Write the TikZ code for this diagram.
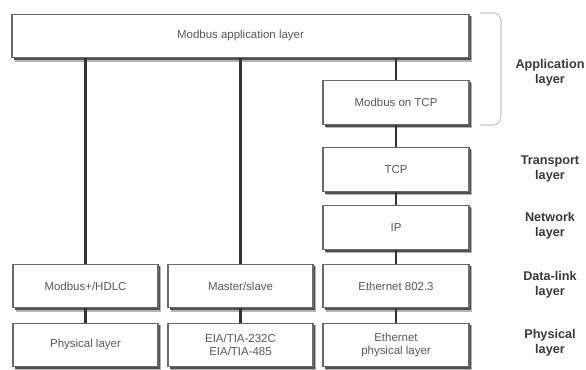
\documentclass[tikz,border=0pt]{standalone}
\usepackage{fontspec}
\setmainfont{Liberation Sans}
\usetikzlibrary{positioning}

\definecolor{boxline}{HTML}{6A6A6A}
\definecolor{boxtext}{HTML}{5A5A5A}
\definecolor{linkgray}{HTML}{333333}
\definecolor{bracegray}{HTML}{C4C4C4}
\definecolor{labelgray}{HTML}{3A3A3A}
\definecolor{shadowdark}{HTML}{505050}
\definecolor{shadowsoft}{HTML}{B4B4B4}

% a layer box with its drop shadow: name, x, y, width, text
\newcommand{\layerbox}[5]{%
  \fill[shadowsoft] (#2-#4/2+3,#3-20) rectangle (#2+#4/2+3,#3+25.5);
  \fill[shadowdark] (#2-#4/2+1.5,#3-20.5) rectangle (#2+#4/2+1.5,#3+24);
  \node[Layer, minimum width=#4*0.75pt] (#1) at (#2,#3) {#5};}

\begin{document}
\begin{tikzpicture}[x=0.75pt,y=-0.75pt]
                        \tikzset{Layer/.style={%
                                shape=rectangle,%
                                draw=boxline,%
                                line width=0.8pt,%
                                fill=white,%
                                text=boxtext,%
                                font=\fontsize{8.6}{10}\selectfont,%
                                align=center,%
                                minimum height=32.5pt,%
                                inner sep=0pt,%
                            },
                            Link/.style={-,line width=1.6pt,draw=linkgray},
                            Name/.style={text=labelgray,font=\fontsize{9.5}{11}\selectfont\bfseries,align=center}}
                            \useasboundingbox (0,0) rectangle (586,369);

                            \layerbox{app}{240.5}{36}{457}{Modbus application layer}
                            \layerbox{mtcp}{396}{102.5}{146}{Modbus on TCP}
                            \layerbox{tcp}{396}{169.5}{146}{TCP}
                            \layerbox{ip}{396}{227.5}{146}{IP}
                            \layerbox{hdlc}{85.5}{286}{145}{Modbus+/HDLC}
                            \layerbox{ms}{240.5}{286}{145}{Master/slave}
                            \layerbox{eth}{396}{286}{146}{Ethernet 802.3}
                            \layerbox{phy}{85.5}{345}{145}{Physical layer}
                            \layerbox{eia}{240.5}{345}{145}{EIA/TIA-232C\\EIA/TIA-485}
                            \layerbox{ephy}{396}{345}{146}{Ethernet\\physical layer}

                            \path (app.south -| hdlc) edge[Link] (hdlc.north);
                            \path (app.south -| ms) edge[Link] (ms.north);
                            \path (app.south -| mtcp) edge[Link] (mtcp.north);
                            \path (mtcp) edge[Link] (tcp);
                            \path (tcp) edge[Link] (ip);
                            \path (ip) edge[Link] (eth);
                            \path (hdlc) edge[Link] (phy);
                            \path (ms) edge[Link] (eia);
                            \path (eth) edge[Link] (ephy);

                            % bracket round the application part
                            \draw[bracegray, line width=0.8pt, rounded corners=6pt] (480,13) -- (501,13) -- (501,125) -- (480,125);

                            \node[Name] (appname) at (550,72.5) {Application\\layer};
                            \node[Name] (tname) at (550,169) {Transport\\layer};
                            \node[Name] (nname) at (550,225.5) {Network\\layer};
                            \node[Name] (dname) at (550,284.5) {Data-link\\layer};
                            \node[Name] (pname) at (550,342.5) {Physical\\layer};
                    \end{tikzpicture}
\end{document}
